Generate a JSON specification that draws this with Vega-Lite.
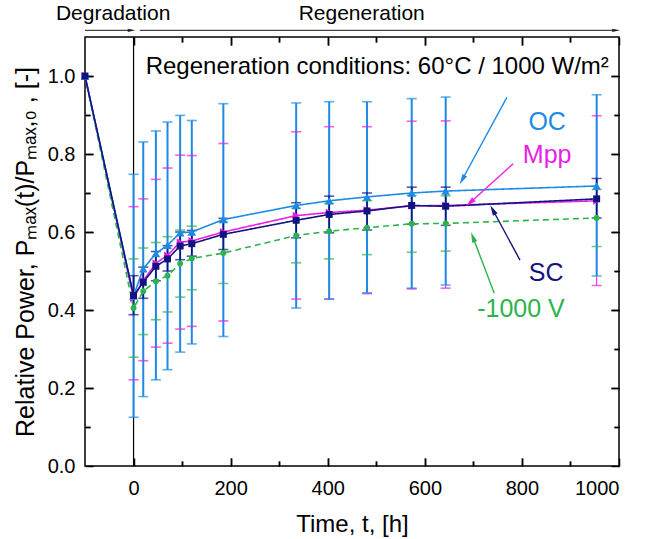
{
  "$schema": "https://vega.github.io/schema/vega-lite/v6.json",
  "width": 534,
  "height": 429,
  "autosize": {"type": "none"},
  "padding": {"left": 85, "top": 37, "right": 26, "bottom": 73},
  "background": "white",
  "config": {
    "font": "Liberation Sans",
    "view": {"stroke": "black", "strokeWidth": 1.5},
    "axis": {"zindex": 1, "ticks": true, "grid": false, "domain": false, "tickColor": "black", "tickWidth": 1.5, "gridColor": "black", "gridOpacity": 1, "gridWidth": 1.5, "labelColor": "black", "titleColor": "black", "labelFont": "Liberation Sans", "titleFont": "Liberation Sans", "titleFontWeight": "normal", "labelFontSize": 20, "titleFontSize": 24}
  },
  "datasets": {
    "series": [
      {"series": "Mpp", "t": -100, "v": 1.0, "lo": null, "hi": null},
      {"series": "Mpp", "t": 0, "v": 0.43, "lo": 0.221, "hi": 0.665},
      {"series": "Mpp", "t": 20, "v": 0.475, "lo": 0.27, "hi": 0.685},
      {"series": "Mpp", "t": 46, "v": 0.52, "lo": 0.305, "hi": 0.735},
      {"series": "Mpp", "t": 70, "v": 0.54, "lo": 0.315, "hi": 0.764},
      {"series": "Mpp", "t": 96, "v": 0.574, "lo": 0.351, "hi": 0.797},
      {"series": "Mpp", "t": 120, "v": 0.577, "lo": 0.358, "hi": 0.796},
      {"series": "Mpp", "t": 185, "v": 0.6, "lo": 0.372, "hi": 0.827},
      {"series": "Mpp", "t": 335, "v": 0.642, "lo": 0.428, "hi": 0.857},
      {"series": "Mpp", "t": 403, "v": 0.65, "lo": 0.428, "hi": 0.87},
      {"series": "Mpp", "t": 481, "v": 0.656, "lo": 0.442, "hi": 0.87},
      {"series": "Mpp", "t": 573, "v": 0.667, "lo": 0.454, "hi": 0.884},
      {"series": "Mpp", "t": 643, "v": 0.668, "lo": 0.456, "hi": 0.885},
      {"series": "Mpp", "t": 954, "v": 0.68, "lo": 0.463, "hi": 0.898},
      {"series": "-1000 V", "t": -100, "v": 1.0, "lo": null, "hi": null},
      {"series": "-1000 V", "t": 0, "v": 0.405, "lo": 0.279, "hi": 0.531},
      {"series": "-1000 V", "t": 20, "v": 0.448, "lo": 0.337, "hi": 0.559},
      {"series": "-1000 V", "t": 46, "v": 0.474, "lo": 0.375, "hi": 0.573},
      {"series": "-1000 V", "t": 70, "v": 0.488, "lo": 0.395, "hi": 0.588},
      {"series": "-1000 V", "t": 96, "v": 0.519, "lo": 0.433, "hi": 0.605},
      {"series": "-1000 V", "t": 120, "v": 0.532, "lo": 0.452, "hi": 0.615},
      {"series": "-1000 V", "t": 185, "v": 0.546, "lo": 0.468, "hi": 0.625},
      {"series": "-1000 V", "t": 335, "v": 0.591, "lo": 0.521, "hi": 0.661},
      {"series": "-1000 V", "t": 403, "v": 0.602, "lo": 0.531, "hi": 0.673},
      {"series": "-1000 V", "t": 481, "v": 0.611, "lo": 0.542, "hi": 0.68},
      {"series": "-1000 V", "t": 573, "v": 0.621, "lo": 0.548, "hi": 0.694},
      {"series": "-1000 V", "t": 643, "v": 0.622, "lo": 0.551, "hi": 0.693},
      {"series": "-1000 V", "t": 954, "v": 0.636, "lo": 0.563, "hi": 0.709},
      {"series": "OC", "t": -100, "v": 1.0, "lo": null, "hi": null},
      {"series": "OC", "t": 0, "v": 0.436, "lo": 0.125, "hi": 0.748},
      {"series": "OC", "t": 20, "v": 0.506, "lo": 0.178, "hi": 0.831},
      {"series": "OC", "t": 46, "v": 0.545, "lo": 0.221, "hi": 0.859},
      {"series": "OC", "t": 70, "v": 0.566, "lo": 0.247, "hi": 0.882},
      {"series": "OC", "t": 96, "v": 0.598, "lo": 0.292, "hi": 0.899},
      {"series": "OC", "t": 120, "v": 0.6, "lo": 0.313, "hi": 0.886},
      {"series": "OC", "t": 185, "v": 0.632, "lo": 0.332, "hi": 0.929},
      {"series": "OC", "t": 335, "v": 0.668, "lo": 0.405, "hi": 0.931},
      {"series": "OC", "t": 403, "v": 0.68, "lo": 0.428, "hi": 0.934},
      {"series": "OC", "t": 481, "v": 0.69, "lo": 0.444, "hi": 0.934},
      {"series": "OC", "t": 573, "v": 0.7, "lo": 0.456, "hi": 0.942},
      {"series": "OC", "t": 643, "v": 0.705, "lo": 0.464, "hi": 0.946},
      {"series": "OC", "t": 954, "v": 0.718, "lo": 0.487, "hi": 0.952},
      {"series": "SC", "t": -100, "v": 1.0, "lo": null, "hi": null},
      {"series": "SC", "t": 0, "v": 0.437, "lo": 0.388, "hi": 0.488},
      {"series": "SC", "t": 20, "v": 0.471, "lo": 0.43, "hi": 0.51},
      {"series": "SC", "t": 46, "v": 0.512, "lo": 0.475, "hi": 0.55},
      {"series": "SC", "t": 70, "v": 0.531, "lo": 0.5, "hi": 0.565},
      {"series": "SC", "t": 96, "v": 0.564, "lo": 0.529, "hi": 0.6},
      {"series": "SC", "t": 120, "v": 0.57, "lo": 0.538, "hi": 0.604},
      {"series": "SC", "t": 185, "v": 0.594, "lo": 0.555, "hi": 0.635},
      {"series": "SC", "t": 335, "v": 0.63, "lo": 0.585, "hi": 0.675},
      {"series": "SC", "t": 403, "v": 0.645, "lo": 0.598, "hi": 0.692},
      {"series": "SC", "t": 481, "v": 0.654, "lo": 0.605, "hi": 0.7},
      {"series": "SC", "t": 573, "v": 0.668, "lo": 0.62, "hi": 0.715},
      {"series": "SC", "t": 643, "v": 0.666, "lo": 0.617, "hi": 0.715},
      {"series": "SC", "t": 954, "v": 0.685, "lo": 0.636, "hi": 0.737}
    ],
    "labels": [
      {"label": "OC", "t": 852, "v": 0.883},
      {"label": "Mpp", "t": 852, "v": 0.798},
      {"label": "SC", "t": 850, "v": 0.495},
      {"label": "-1000 V", "t": 798, "v": 0.402}
    ],
    "arrows": [
      {"label": "OC", "t0": 769, "v0": 0.945, "t1": 677, "v1": 0.734},
      {"label": "Mpp", "t0": 782, "v0": 0.775, "t1": 693, "v1": 0.675},
      {"label": "SC", "t0": 796, "v0": 0.528, "t1": 740, "v1": 0.657},
      {"label": "-1000 V", "t0": 743, "v0": 0.443, "t1": 699, "v1": 0.587}
    ],
    "phases": [
      {"phase": "Degradation", "t0": -100, "t1": -4, "tl": -42},
      {"phase": "Regeneration", "t0": 13, "t1": 994, "tl": 470}
    ],
    "note": [
      {"text": "Regeneration conditions: 60°C / 1000 W/m²", "t": 502, "v": 1.022}
    ],
    "zero": [{"t": 0}]
  },
  "resolve": {"axis": {"x": "independent", "y": "independent"}},
  "layer": [
    {
      "data": {"name": "zero"},
      "mark": {"type": "rule", "color": "black", "strokeWidth": 1.2},
      "encoding": {
        "x": {"field": "t", "type": "quantitative", "scale": {"domain": [-100, 1000], "nice": false, "zero": false},
          "axis": {"orient": "top", "values": [0, 200, 400, 600, 800, 1000], "labels": false, "title": null, "tickSize": 8, "offset": -8}}
      }
    },
    {
      "data": {"name": "series"},
      "transform": [{"filter": "datum.series == 'Mpp' || datum.series == '-1000 V'"}, {"filter": "datum.lo != null"}],
      "mark": {"type": "rule", "strokeWidth": 1},
      "encoding": {
        "x": {"field": "t", "type": "quantitative", "axis": null},
        "y": {"field": "lo", "type": "quantitative", "scale": {"domain": [0, 1.1], "nice": false, "zero": true},
          "axis": {"orient": "right", "values": [0, 0.2, 0.4, 0.6, 0.8, 1.0], "labels": false, "title": null, "tickSize": 8, "offset": -8}},
        "y2": {"field": "hi"},
        "color": {"field": "series", "type": "nominal", "legend": null,
          "scale": {"domain": ["OC", "Mpp", "SC", "-1000 V"], "range": ["#1d8be6", "#ea1ee6", "#131380", "#2bb44c"]}}
      }
    },
    {
      "data": {"name": "series"},
      "transform": [{"filter": "datum.series == 'OC'"}, {"filter": "datum.lo != null"}],
      "mark": {"type": "rule", "strokeWidth": 2},
      "encoding": {
        "x": {"field": "t", "type": "quantitative", "axis": null},
        "y": {"field": "lo", "type": "quantitative", "axis": null},
        "y2": {"field": "hi"},
        "color": {"field": "series", "type": "nominal", "legend": null}
      }
    },
    {
      "data": {"name": "series"},
      "transform": [{"filter": "datum.series == 'SC'"}, {"filter": "datum.lo != null"}],
      "mark": {"type": "rule", "strokeWidth": 1.6},
      "encoding": {
        "x": {"field": "t", "type": "quantitative", "axis": null},
        "y": {"field": "lo", "type": "quantitative", "axis": null},
        "y2": {"field": "hi"},
        "color": {"field": "series", "type": "nominal", "legend": null}
      }
    },
    {
      "data": {"name": "series"},
      "transform": [{"filter": "datum.lo != null"}],
      "mark": {"type": "tick", "orient": "horizontal", "size": 10, "thickness": 1.6},
      "encoding": {
        "x": {"field": "t", "type": "quantitative",
          "axis": {"orient": "bottom", "values": [100, 300, 500, 700, 900], "labels": false, "title": null, "tickSize": 5, "offset": -5}},
        "y": {"field": "lo", "type": "quantitative",
          "axis": {"orient": "left", "values": [0.1, 0.3, 0.5, 0.7, 0.9], "labels": false, "title": null, "tickSize": 5, "offset": -5}},
        "color": {"field": "series", "type": "nominal", "legend": null}
      }
    },
    {
      "data": {"name": "series"},
      "transform": [{"filter": "datum.lo != null"}],
      "mark": {"type": "tick", "orient": "horizontal", "size": 10, "thickness": 1.6},
      "encoding": {
        "x": {"field": "t", "type": "quantitative",
          "axis": {"orient": "top", "values": [100, 300, 500, 700, 900], "labels": false, "title": null, "tickSize": 5, "offset": -5}},
        "y": {"field": "hi", "type": "quantitative",
          "axis": {"orient": "right", "values": [0.1, 0.3, 0.5, 0.7, 0.9], "labels": false, "title": null, "tickSize": 5, "offset": -5}},
        "color": {"field": "series", "type": "nominal", "legend": null}
      }
    },
    {
      "data": {"name": "series"},
      "mark": {"type": "line", "strokeWidth": 1.6},
      "encoding": {
        "x": {"field": "t", "type": "quantitative",
          "axis": {"orient": "bottom", "values": [0, 200, 400, 600, 800, 1000], "tickSize": 8, "offset": -8,
            "labelExpr": "'' + datum.value", "labelPadding": 12, "title": "Time, t, [h]", "titlePadding": 14}},
        "y": {"field": "v", "type": "quantitative",
          "axis": {"orient": "left", "values": [0, 0.2, 0.4, 0.6, 0.8, 1.0], "tickSize": 8, "offset": -8,
            "format": ".1f", "labelPadding": 10,
            "title": "Relative Power, Pₘₐₓ(t)/Pₘₐₓ,₀ , [-]", "titleFontSize": 25, "titlePadding": 9}},
        "color": {"field": "series", "type": "nominal", "legend": null},
        "strokeDash": {"field": "series", "type": "nominal", "legend": null,
          "scale": {"domain": ["OC", "Mpp", "SC", "-1000 V"], "range": [[1, 0], [1, 0], [1, 0], [6, 4]]}},
        "order": {"field": "t", "type": "quantitative"}
      }
    },
    {
      "data": {"name": "series"},
      "mark": {"type": "point", "filled": true, "opacity": 1},
      "encoding": {
        "x": {"field": "t", "type": "quantitative", "axis": null},
        "y": {"field": "v", "type": "quantitative", "axis": null},
        "color": {"field": "series", "type": "nominal", "legend": null},
        "shape": {"field": "series", "type": "nominal", "legend": null,
          "scale": {"domain": ["OC", "Mpp", "SC", "-1000 V"], "range": ["triangle-up", "triangle-right", "square", "circle"]}},
        "size": {"field": "series", "type": "nominal", "legend": null,
          "scale": {"domain": ["OC", "Mpp", "SC", "-1000 V"], "range": [75, 35, 75, 85]}}
      }
    },
    {
      "data": {"name": "labels"},
      "mark": {"type": "text", "fontSize": 25, "align": "center", "baseline": "middle"},
      "encoding": {
        "x": {"field": "t", "type": "quantitative", "axis": null},
        "y": {"field": "v", "type": "quantitative", "axis": null},
        "text": {"field": "label"},
        "color": {"field": "label", "type": "nominal", "legend": null}
      }
    },
    {
      "data": {"name": "arrows"},
      "mark": {"type": "rule", "strokeWidth": 1.4},
      "encoding": {
        "x": {"field": "t0", "type": "quantitative", "axis": null},
        "y": {"field": "v0", "type": "quantitative", "axis": null},
        "x2": {"field": "t1"},
        "y2": {"field": "v1"},
        "color": {"field": "label", "type": "nominal", "legend": null}
      }
    },
    {
      "data": {"name": "arrows"},
      "transform": [{"filter": "datum.label == 'OC'"}],
      "mark": {"type": "point", "filled": true, "opacity": 1, "shape": "M0,-1L0.5,1L-0.5,1Z", "size": 110, "angle": 208.7},
      "encoding": {
        "x": {"field": "t1", "type": "quantitative",
          "axis": {"orient": "bottom", "values": [200, 400, 600, 800], "ticks": false, "labels": false, "title": null, "grid": true, "gridDash": [8, 413, 8]}},
        "y": {"field": "v1", "type": "quantitative",
          "axis": {"orient": "left", "values": [0.2, 0.4, 0.6, 0.8, 1.0], "ticks": false, "labels": false, "title": null, "grid": true, "gridDash": [8, 518, 8]}},
        "color": {"field": "label", "type": "nominal", "legend": null}
      }
    },
    {
      "data": {"name": "arrows"},
      "transform": [{"filter": "datum.label == 'Mpp'"}],
      "mark": {"type": "point", "filled": true, "opacity": 1, "shape": "M0,-1L0.5,1L-0.5,1Z", "size": 110, "angle": 227.8},
      "encoding": {
        "x": {"field": "t1", "type": "quantitative",
          "axis": {"orient": "bottom", "values": [100, 300, 500, 700, 900], "ticks": false, "labels": false, "title": null, "grid": true, "gridDash": [5, 419, 5]}},
        "y": {"field": "v1", "type": "quantitative",
          "axis": {"orient": "left", "values": [0.1, 0.3, 0.5, 0.7, 0.9], "ticks": false, "labels": false, "title": null, "grid": true, "gridDash": [5, 524, 5]}},
        "color": {"field": "label", "type": "nominal", "legend": null}
      }
    },
    {
      "data": {"name": "arrows"},
      "transform": [{"filter": "datum.label == 'SC'"}],
      "mark": {"type": "point", "filled": true, "opacity": 1, "shape": "M0,-1L0.5,1L-0.5,1Z", "size": 110, "angle": 331.6},
      "encoding": {
        "x": {"field": "t1", "type": "quantitative", "axis": null},
        "y": {"field": "v1", "type": "quantitative", "axis": null},
        "color": {"field": "label", "type": "nominal", "legend": null}
      }
    },
    {
      "data": {"name": "arrows"},
      "transform": [{"filter": "datum.label == '-1000 V'"}],
      "mark": {"type": "point", "filled": true, "opacity": 1, "shape": "M0,-1L0.5,1L-0.5,1Z", "size": 110, "angle": 339.4},
      "encoding": {
        "x": {"field": "t1", "type": "quantitative", "axis": null},
        "y": {"field": "v1", "type": "quantitative", "axis": null},
        "color": {"field": "label", "type": "nominal", "legend": null}
      }
    },
    {
      "data": {"name": "note"},
      "mark": {"type": "text", "fontSize": 24, "align": "center", "baseline": "middle", "color": "black"},
      "encoding": {
        "x": {"field": "t", "type": "quantitative", "axis": null},
        "y": {"field": "v", "type": "quantitative", "axis": null},
        "text": {"field": "text"}
      }
    },
    {
      "data": {"name": "phases"},
      "mark": {"type": "rule", "color": "#444444", "strokeWidth": 1.2},
      "encoding": {
        "x": {"field": "t0", "type": "quantitative", "axis": null},
        "x2": {"field": "t1"},
        "y": {"datum": 1.117, "type": "quantitative", "axis": null}
      }
    },
    {
      "data": {"name": "phases"},
      "mark": {"type": "point", "filled": true, "opacity": 1, "color": "#222222", "shape": "M0,-1L0.45,1L-0.45,1Z", "size": 60, "angle": 90},
      "encoding": {
        "x": {"field": "t1", "type": "quantitative", "axis": null},
        "y": {"datum": 1.117, "type": "quantitative", "axis": null}
      }
    },
    {
      "data": {"name": "phases"},
      "mark": {"type": "text", "fontSize": 21, "align": "center", "baseline": "middle", "color": "black"},
      "encoding": {
        "x": {"field": "tl", "type": "quantitative", "axis": null},
        "y": {"datum": 1.158, "type": "quantitative", "axis": null},
        "text": {"field": "phase"}
      }
    }
  ]
}
